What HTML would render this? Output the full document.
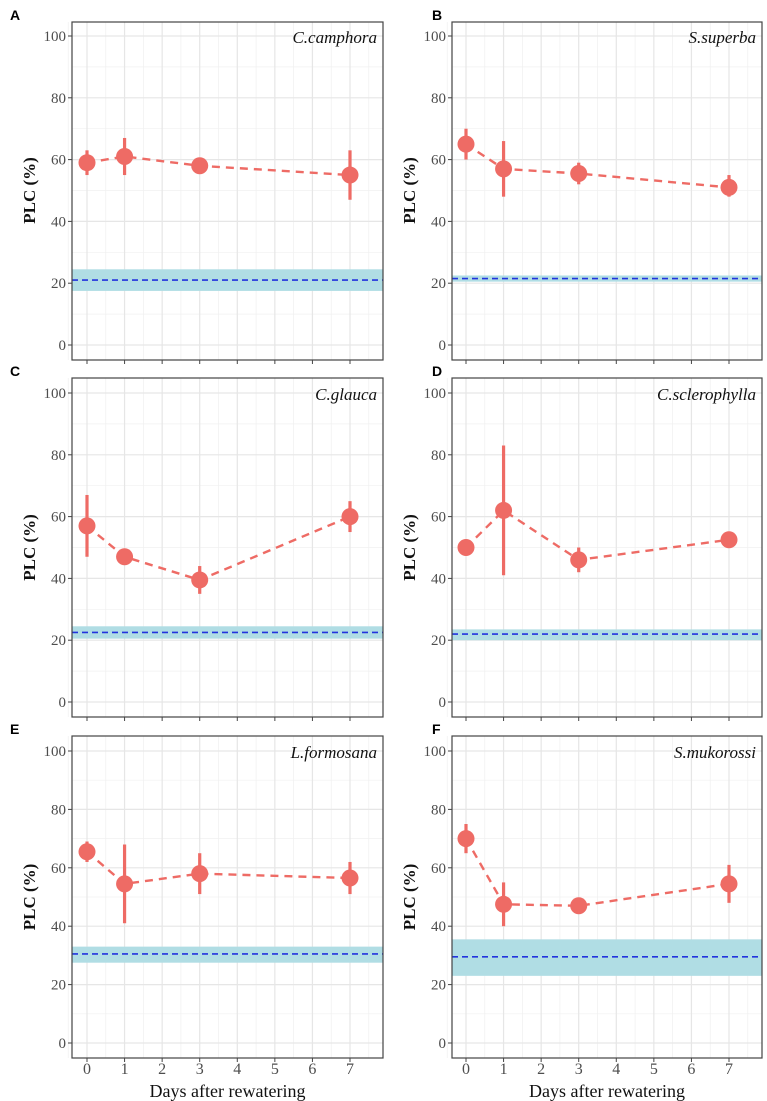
<!DOCTYPE html>
<html><head><meta charset="utf-8"><style>
html,body{margin:0;padding:0;background:#fff;}
svg{display:block;}
</style></head><body>
<svg id="fig" width="767" height="1101" viewBox="0 0 767 1101" xmlns="http://www.w3.org/2000/svg"></svg>
<script>
const days = [0, 1, 3, 7];
const species = ["C.camphora","S.superba","C.glauca","C.sclerophylla","L.formosana","S.mukorossi"];
const letters = ["A","B","C","D","E","F"];
const meanA = [59, 61, 58, 55];   const loA = [55, 55, 57, 47];   const hiA = [63, 67, 59, 63];
const meanB = [65, 57, 55.5, 51]; const loB = [60, 48, 52, 48];   const hiB = [70, 66, 59, 55];
const meanC = [57, 47, 39.5, 60]; const loC = [47, 46, 35, 55];   const hiC = [67, 48, 44, 65];
const meanD = [50, 62, 46, 52.5]; const loD = [49, 41, 42, 52];   const hiD = [51, 83, 50, 53];
const meanE = [65.5, 54.5, 58, 56.5]; const loE = [62, 41, 51, 51]; const hiE = [69, 68, 65, 62];
const meanF = [70, 47.5, 47, 54.5]; const loF = [65, 40, 46, 48]; const hiF = [75, 55, 48, 61];
const bandLo = [17.5, 20.5, 20.5, 20, 27.5, 23];
const bandHi = [24.5, 22.5, 24.5, 23.5, 33, 35.5];
const refLine = [21, 21.5, 22.5, 22, 30.5, 29.5];
const yTicks = [0, 20, 40, 60, 80, 100];
const xTicks = [0, 1, 2, 3, 4, 5, 6, 7];
const means = [meanA, meanB, meanC, meanD, meanE, meanF];
const los = [loA, loB, loC, loD, loE, loF];
const his = [hiA, hiB, hiC, hiD, hiE, hiF];

const NS = "http://www.w3.org/2000/svg";
const svg = document.getElementById("fig");
function mk(tag, attrs, parent, text){
  const e = document.createElementNS(NS, tag);
  for (const k in attrs) e.setAttribute(k, attrs[k]);
  if (text !== undefined) e.textContent = text;
  parent.appendChild(e);
  return e;
}
const cols = [{l:72, r:383, x0:87, x7:350}, {l:452, r:762, x0:466, x7:729}];
const rows = [{t:22, b:360, y100:36, y0:345}, {t:378, b:717, y100:393, y0:702}, {t:736, b:1058, y100:751, y0:1043}];

for (let p = 0; p < 6; p++){
  const c = cols[p % 2], rw = rows[Math.floor(p / 2)];
  const g = mk("g", {}, svg);
  
  
  const xs = v => c.x0 + (c.x7 - c.x0) * v / 7;
  const ys = v => rw.y0 - (rw.y0 - rw.y100) * v / 100;
  for (let v = 10; v <= 100; v += 20) mk("line", {x1:c.l, x2:c.r, y1:ys(v), y2:ys(v), stroke:"#f0f0f0", "stroke-width":0.7}, g);
  for (let v = -0.5; v <= 7.5; v += 1) mk("line", {x1:xs(v), x2:xs(v), y1:rw.t, y2:rw.b, stroke:"#f0f0f0", "stroke-width":0.7}, g);
  yTicks.forEach(v => mk("line", {x1:c.l, x2:c.r, y1:ys(v), y2:ys(v), stroke:"#e6e6e6", "stroke-width":1.2}, g));
  xTicks.forEach(v => mk("line", {x1:xs(v), x2:xs(v), y1:rw.t, y2:rw.b, stroke:"#e6e6e6", "stroke-width":1.2}, g));
  const band = mk("rect", {x:c.l, y:ys(bandHi[p]), width:c.r - c.l, height:ys(bandLo[p]) - ys(bandHi[p]), fill:"#b0dde4"}, g);
  
  
  const rl = mk("line", {x1:c.l, x2:c.r, y1:ys(refLine[p]), y2:ys(refLine[p]), stroke:"#2233dd", "stroke-width":1.6, "stroke-dasharray":"6,4"}, g);
  
  
  const pts = days.map((d, i) => xs(d) + "," + ys(means[p][i])).join(" ");
  const sl = mk("polyline", {points:pts, fill:"none", stroke:"#ee6b65", "stroke-width":2.4, "stroke-dasharray":"8,6"}, g);
  
  
  days.forEach((d, i) => {
    const eb = mk("line", {x1:xs(d), x2:xs(d), y1:ys(los[p][i]), y2:ys(his[p][i]), stroke:"#ee6b65", "stroke-width":3.2}, g);
    
    
    const pt = mk("circle", {cx:xs(d), cy:ys(means[p][i]), r:8.5, fill:"#ee6b65"}, g);
    
    
  });
  mk("rect", {x:c.l, y:rw.t, width:c.r - c.l, height:rw.b - rw.t, fill:"none", stroke:"#444", "stroke-width":1.2}, g);
  yTicks.forEach(v => {
    mk("line", {x1:c.l - 4, x2:c.l, y1:ys(v), y2:ys(v), stroke:"#444", "stroke-width":1}, g);
    const t = mk("text", {x:c.l - 6, y:ys(v) + 5, "text-anchor":"end", "font-family":"Liberation Serif, serif", "font-size":15, fill:"#4d4d4d"}, g, String(v));
    
    
  });
  xTicks.forEach(v => {
    mk("line", {x1:xs(v), x2:xs(v), y1:rw.b, y2:rw.b + 4, stroke:"#444", "stroke-width":1}, g);
    if (p >= 4){
      const t = mk("text", {x:xs(v), y:1074, "text-anchor":"middle", "font-family":"Liberation Serif, serif", "font-size":16, fill:"#4d4d4d"}, g, String(v));
      
      
    }
  });
  if (p >= 4){
    const xt = mk("text", {x:(c.l + c.r) / 2, y:1097, "text-anchor":"middle", "font-family":"Liberation Serif, serif", "font-size":18, fill:"#111"}, g, "Days after rewatering");
    
    
  }
  const ymid = (rw.y0 + rw.y100) / 2;
  const yt = mk("text", {x:0, y:0, transform:"translate(" + (c.l - 37) + "," + ymid + ") rotate(-90)", "text-anchor":"middle", "font-family":"Liberation Serif, serif", "font-size":17, "font-weight":"bold", fill:"#111"}, g, "PLC (%)");
  
  
  const sp = mk("text", {x:c.r - 6, y:rw.y100 + 7, "text-anchor":"end", "font-family":"Liberation Serif, serif", "font-size":17, "font-style":"italic", fill:"#111"}, g, species[p]);
  
  
  const lt = mk("text", {x:c.l - 62 + (p % 2 ? 42 : 0), y:rw.t - 2, "font-family":"Liberation Sans, sans-serif", "font-size":14, "font-weight":"bold", fill:"#000"}, g, letters[p]);
  
  
}
</script>
</body></html>
